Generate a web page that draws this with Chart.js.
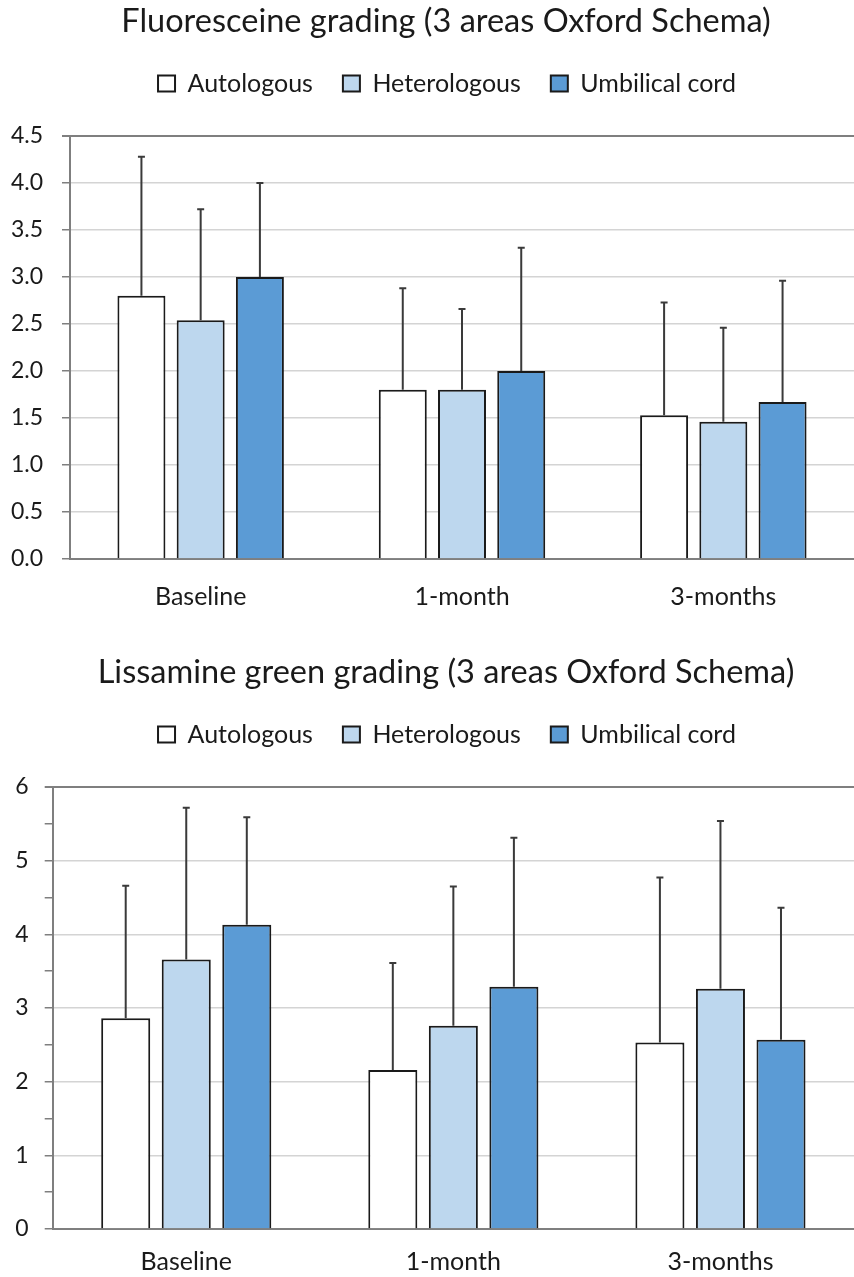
<!DOCTYPE html>
<html lang="en">
<head>
    <meta charset="UTF-8">
    <title>Oxford Schema grading</title>
    <script src="https://cdn.jsdelivr.net/npm/chart.js"></script>
    <style>
        body { margin: 0; background: #fff; overflow: hidden; }
        .box { position: absolute; left: 0; width: 854px; }
        #top { top: 0; height: 651px; }
        #bottom { top: 651px; height: 626px; }
    </style>
</head>
<body>
    <div class="box" id="top"><canvas id="fluoChart"></canvas></div>
    <div class="box" id="bottom"><canvas id="lissChart"></canvas></div>

    <script>
        // Data (means and upper SD whisker)
        const categories = ['Baseline', '1-month', '3-months'];
        const seriesNames = ['Autologous', 'Heterologous', 'Umbilical cord'];

        const fluoAutologous = [2.80, 1.80, 1.53];
        const fluoHeterologous = [2.54, 1.80, 1.46];
        const fluoUmbilical = [3.00, 2.00, 1.67];
        const fluoAutologousSd = [1.48, 1.08, 1.20];
        const fluoHeterologousSd = [1.18, 0.86, 1.00];
        const fluoUmbilicalSd = [1.00, 1.31, 1.29];

        const lissAutologous = [2.86, 2.16, 2.53];
        const lissHeterologous = [3.66, 2.76, 3.26];
        const lissUmbilical = [4.13, 3.29, 2.57];
        const lissAutologousSd = [1.80, 1.45, 2.24];
        const lissHeterologousSd = [2.06, 1.89, 2.28];
        const lissUmbilicalSd = [1.46, 2.02, 1.79];

        const fluoTicks = [0, 0.5, 1, 1.5, 2, 2.5, 3, 3.5, 4, 4.5];
        const lissTicks = [0, 1, 2, 3, 4, 5, 6];
        const lissMinorTicks = [0.5, 1.5, 2.5, 3.5, 4.5, 5.5];

        const colors = ['#ffffff', '#bdd7ee', '#5b9bd5'];
        const FONT = 'Lato';

        // draws the upper error bar on each bar
        const errorBars = {
            id: 'errorBars',
            afterDatasetsDraw(chart) {
                const ctx = chart.ctx;
                const yScale = chart.scales.y;
                ctx.save();
                ctx.strokeStyle = '#3a3a3a';
                ctx.lineWidth = 2;
                chart.data.datasets.forEach((ds, i) => {
                    const meta = chart.getDatasetMeta(i);
                    meta.data.forEach((bar, j) => {
                        const top = yScale.getPixelForValue(ds.data[j] + ds.sd[j]);
                        ctx.beginPath();
                        ctx.moveTo(bar.x, bar.y);
                        ctx.lineTo(bar.x, top);
                        ctx.moveTo(bar.x - 3.5, top);
                        ctx.lineTo(bar.x + 3.5, top);
                        ctx.stroke();
                    });
                });
                ctx.restore();
            }
        };

        // fixed legend height so the plot starts where the original does,
        // and title/legend nudged right to sit centred like the original
        const headerLayout = {
            id: 'headerLayout',
            beforeInit(chart) {
                const legend = chart.legend;
                const fit = legend.fit;
                legend.fit = function() {
                    fit.call(legend);
                    legend.height = 95;
                };
            },
            afterLayout(chart) {
                chart.titleBlock.left = 38;
                chart.legend.left = 40;
            }
        };

        function makeChart(id, title, values, sds, yMax, labelTicks, opts) {
            const datasets = seriesNames.map((name, i) => ({
                label: name,
                data: values[i],
                sd: sds[i],
                backgroundColor: colors[i],
                borderColor: '#1a1a1a',
                borderWidth: 2,
                categoryPercentage: 0.68,
                barPercentage: 0.81
            }));

            return new Chart(document.getElementById(id), {
                type: 'bar',
                data: { labels: categories, datasets: datasets },
                plugins: [errorBars, headerLayout],
                options: {
                    responsive: true,
                    maintainAspectRatio: false,
                    animation: false,
                    layout: { padding: { left: opts.padLeft, right: 0, top: 0, bottom: 0 } },
                    plugins: {
                        title: {
                            display: true,
                            text: title,
                            color: '#1a1a1a',
                            font: { family: FONT, size: 32.5, weight: 'normal' },
                            padding: { top: 2, bottom: 0 }
                        },
                        legend: {
                            display: true,
                            labels: {
                                color: '#1a1a1a',
                                font: { family: FONT, size: 25 },
                                boxWidth: 17,
                                boxHeight: 16,
                                padding: 30
                            }
                        },
                        tooltip: { enabled: false }
                    },
                    scales: {
                        x: {
                            grid: { display: false, drawTicks: false },
                            border: { display: true, color: '#7f7f7f', width: 2 },
                            afterFit: function(axis) { axis.height = opts.xHeight; },
                            ticks: {
                                color: '#1a1a1a',
                                font: { family: FONT, size: 25 },
                                padding: opts.xPad
                            }
                        },
                        y: {
                            min: 0,
                            max: yMax,
                            afterBuildTicks: function(axis) {
                                axis.ticks = opts.allTicks.map(v => ({ value: v }));
                            },
                            afterFit: function(axis) { axis.width = opts.yWidth; },
                            grid: {
                                color: function(c) {
                                    const v = c.tick ? c.tick.value : 0;
                                    if (v === yMax) return '#7f7f7f';
                                    if (v === 0) return 'rgba(0,0,0,0)';
                                    return labelTicks.includes(v) ? '#d4d4d4' : 'rgba(0,0,0,0)';
                                },
                                lineWidth: function(c) {
                                    return c.tick && c.tick.value === yMax ? 2 : 1.5;
                                },
                                tickColor: '#7f7f7f',
                                tickLength: 8
                            },
                            border: { display: true, color: '#7f7f7f', width: 2 },
                            ticks: {
                                color: '#1a1a1a',
                                font: { family: FONT, size: 23 },
                                padding: opts.yPad,
                                callback: function(value) {
                                    if (!labelTicks.includes(value)) return '';
                                    return opts.decimals ? value.toFixed(1) : String(value);
                                }
                            }
                        }
                    }
                }
            });
        }

        makeChart('fluoChart', 'Fluoresceine grading (3 areas Oxford Schema)',
            [fluoAutologous, fluoHeterologous, fluoUmbilical],
            [fluoAutologousSd, fluoHeterologousSd, fluoUmbilicalSd],
            4.5, fluoTicks,
            { padLeft: 11, yWidth: 59, xHeight: 92, xPad: 23, yPad: 19, decimals: true,
              allTicks: fluoTicks });

        makeChart('lissChart', 'Lissamine green grading (3 areas Oxford Schema)',
            [lissAutologous, lissHeterologous, lissUmbilical],
            [lissAutologousSd, lissHeterologousSd, lissUmbilicalSd],
            6, lissTicks,
            { padLeft: 15, yWidth: 37.7, xHeight: 48, xPad: 18, yPad: 16, decimals: false,
              allTicks: lissTicks.concat(lissMinorTicks).sort((a, b) => a - b) });
    </script>
</body>
</html>
